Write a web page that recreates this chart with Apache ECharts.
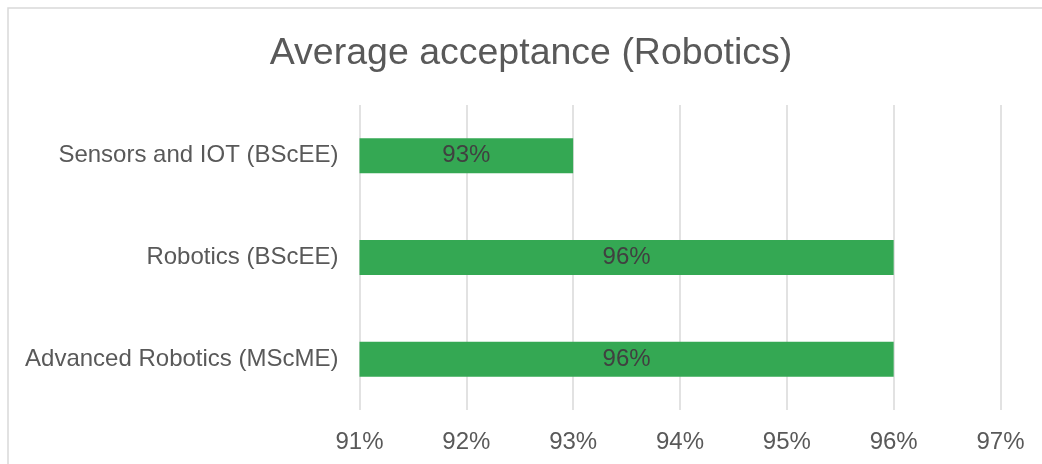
<!DOCTYPE html>
<html>
<head>
<meta charset="utf-8">
<script src="https://cdn.jsdelivr.net/npm/echarts@6/dist/echarts.min.js"></script>
<style>
  html, body { margin: 0; padding: 0; background: #fff; }
  #chart { width: 1042px; height: 464px; }
</style>
</head>
<body>
<div id="chart"></div>
<script>
// Programmes (bottom to top as drawn on the category axis)
const categories = ['Advanced Robotics (MScME)', 'Robotics (BScEE)', 'Sensors and IOT (BScEE)'];
// Average acceptance, percent
const acceptance = [96, 96, 93];
// Value axis range and step, percent
const axisMin = 91;
const axisMax = 97;
const axisStep = 1;

const FONT = '"Liberation Sans", Arial, sans-serif';
const chart = echarts.init(document.getElementById('chart'));

chart.setOption({
  animation: false,
  backgroundColor: '#ffffff',
  graphic: [{
    type: 'rect',
    shape: { x: 8, y: 8, width: 1100, height: 520 },
    style: { fill: 'none', stroke: '#d9d9d9', lineWidth: 1.5 },
    silent: true,
    z: -1
  }],
  title: {
    text: 'Average acceptance (Robotics)',
    left: 526,
    top: 30,
    textAlign: 'center',
    textStyle: { fontFamily: FONT, fontSize: 37.5, fontWeight: 'normal', color: '#595959' }
  },
  grid: { left: 359.5, right: 41.5, top: 105, bottom: 54, containLabel: false },
  xAxis: {
    type: 'value',
    min: axisMin,
    max: axisMax,
    interval: axisStep,
    axisLine: { show: false },
    axisTick: { show: false },
    splitLine: { show: true, lineStyle: { color: '#d9d9d9', width: 1.5 } },
    axisLabel: {
      formatter: v => v + '%',
      fontFamily: FONT, fontSize: 24, color: '#595959', margin: 20
    }
  },
  yAxis: {
    type: 'category',
    data: categories,
    axisLine: { show: false },
    axisTick: { show: false },
    axisLabel: { fontFamily: FONT, fontSize: 24, color: '#595959', margin: 21 }
  },
  series: [{
    type: 'bar',
    data: acceptance,
    barWidth: 35,
    itemStyle: { color: '#34a853' },
    label: {
      show: true,
      position: 'inside',
      formatter: p => p.value + '%',
      fontFamily: FONT, fontSize: 24, color: '#404040'
    }
  }]
});
</script>
</body>
</html>
